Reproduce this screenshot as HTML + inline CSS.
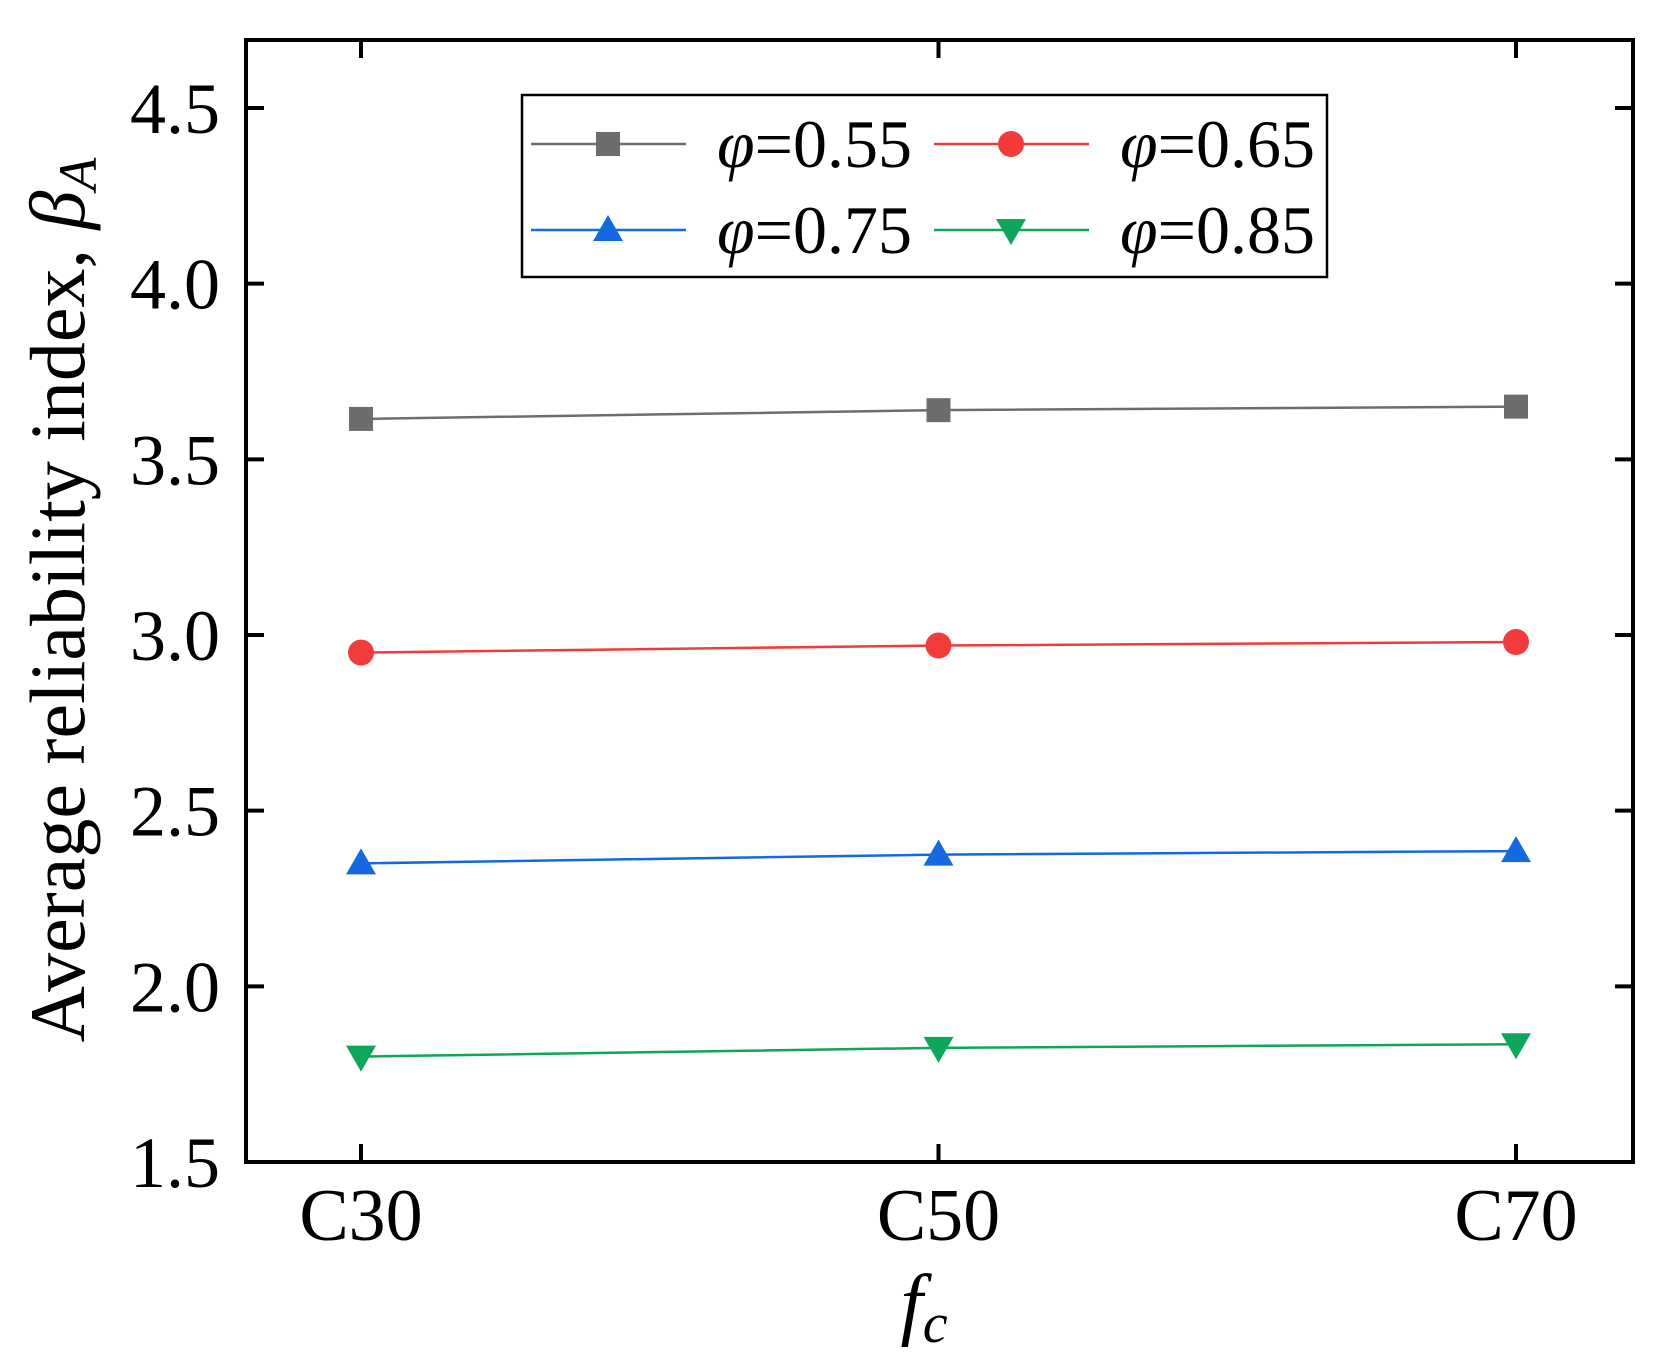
<!DOCTYPE html>
<html><head><meta charset="utf-8"><style>body{margin:0;background:#fff}svg{display:block}</style></head>
<body>
<svg id="chart" width="1671" height="1363" xmlns="http://www.w3.org/2000/svg" font-family="'Liberation Serif', serif">
<g id="axes"></g><g id="series"></g>
<g id="legend">
<rect x="522" y="95" width="805" height="182" fill="#fff" stroke="#000" stroke-width="2.5"/>
</g>
<text x="924" y="1330" font-size="80" font-style="italic" text-anchor="middle">f<tspan font-size="56" dy="12">c</tspan></text>
<text transform="translate(84,600) rotate(-90)" font-size="78" text-anchor="middle">Average reliability index, <tspan font-style="italic">β</tspan><tspan font-style="italic" font-size="54" dy="12">A</tspan></text>
</svg>
<script>
const categories=["C30","C50","C70"];
const yTicks=[1.5,2.0,2.5,3.0,3.5,4.0,4.5];
const s055=[3.615,3.64,3.65];
const s065=[2.95,2.97,2.98];
const s075=[2.35,2.375,2.385];
const s085=[1.80,1.825,1.835];
const labels=["φ=0.55","φ=0.65","φ=0.75","φ=0.85"];
const NS="http://www.w3.org/2000/svg";
const L=246,R=1633,T=40,B=1162;
const xPos=[361,938,1516];
function X(i){return xPos[0]+(xPos[2]-xPos[0])*i/(categories.length-1);}
function Y(v){return B-(v-1.5)*(B-108)/3.0;}
function mk(tag,attrs,parent){const e=document.createElementNS(NS,tag);for(const k in attrs)e.setAttribute(k,attrs[k]);parent.appendChild(e);return e;}
const ax=document.getElementById('axes');
let fr=mk('rect',{x:L,y:T,width:R-L,height:B-T,fill:'none',stroke:'#000','stroke-width':4},ax);


yTicks.forEach(v=>{const y=Y(v);
 mk('line',{x1:L,x2:L+18,y1:y,y2:y,stroke:'#000','stroke-width':4},ax);
 mk('line',{x1:R,x2:R-18,y1:y,y2:y,stroke:'#000','stroke-width':4},ax);
 const t=mk('text',{x:220,y:y+25,'font-size':72,'text-anchor':'end'},ax);t.textContent=v.toFixed(1);
 
 
});
categories.forEach((c,i)=>{const x=X(i);
 mk('line',{x1:x,x2:x,y1:B,y2:B-18,stroke:'#000','stroke-width':4},ax);
 mk('line',{x1:x,x2:x,y1:T,y2:T+18,stroke:'#000','stroke-width':4},ax);
 const t=mk('text',{x:x,y:1240,'font-size':74,'text-anchor':'middle'},ax);t.textContent=c;
 
 
});
const colors=["#6d6d6d","#f23c3c","#1569e0","#0ea65a"];
const shapes=["square","circle","up","down"];
function marker(shape,x,y,col,g){
 if(shape==="square")return mk('rect',{x:x-12,y:y-12,width:24,height:24,fill:col},g);
 if(shape==="circle")return mk('circle',{cx:x,cy:y,r:13,fill:col},g);
 if(shape==="up")return mk('polygon',{points:`${x},${y-15} ${x-15},${y+11} ${x+15},${y+11}`,fill:col},g);
 return mk('polygon',{points:`${x},${y+15} ${x-15},${y-11} ${x+15},${y-11}`,fill:col},g);
}
const sg=document.getElementById('series');
[s055,s065,s075,s085].forEach((d,k)=>{
 const g=mk('g',{},sg);
 
 
 mk('polyline',{points:d.map((v,i)=>X(i)+','+Y(v)).join(' '),fill:'none',stroke:colors[k],'stroke-width':2.5},g);
 d.forEach((v,i)=>{const m=marker(shapes[k],X(i),Y(v),colors[k],g);
  
  });
});
const lg=document.getElementById('legend');
const pos=[[531,144],[934,144],[531,230],[934,230]];
labels.forEach((lab,k)=>{const [x,y]=pos[k];
 const g=mk('g',{},lg);
 
 
 mk('line',{x1:x,x2:x+155,y1:y,y2:y,stroke:colors[k],'stroke-width':2.5},g);
 marker(shapes[k],x+77,y,colors[k],g);
 const t=mk('text',{x:x+186,y:y+23,'font-size':68},g);
 const a=document.createElementNS(NS,'tspan');a.setAttribute('font-style','italic');a.textContent='φ';t.appendChild(a);
 t.appendChild(document.createTextNode(lab.slice(1)));
});
</script>
</body></html>
